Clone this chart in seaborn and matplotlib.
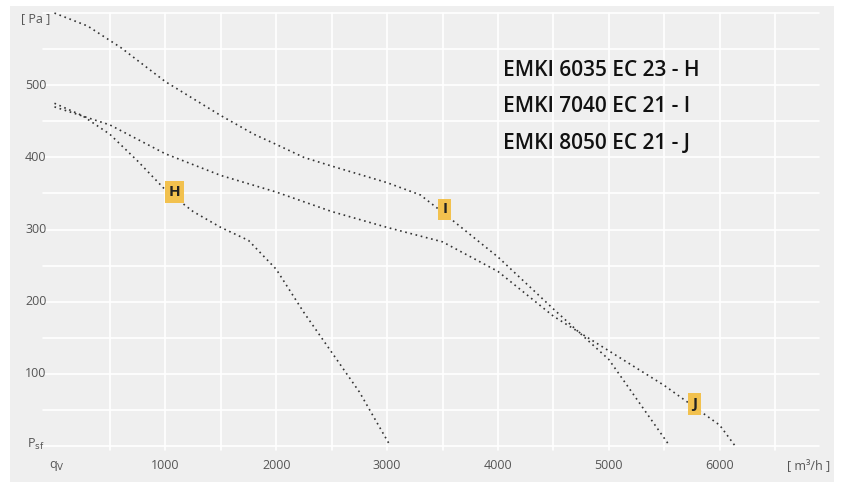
import matplotlib
matplotlib.use("Agg")
import matplotlib.pyplot as plt
import seaborn as sns
import pandas as pd

h_q = [0, 250, 500, 750, 1000, 1250, 1500, 1750, 2000, 2250, 2500, 2750, 3030]
h_p = [475, 458, 432, 395, 355, 325, 303, 285, 245, 185, 130, 75, 0]
i_q = [0, 300, 600, 1000, 1500, 1800, 2000, 2250, 2500, 3000, 3300, 3500, 4000, 4500, 5000, 5550]
i_p = [600, 582, 552, 505, 458, 432, 418, 400, 388, 365, 348, 324, 262, 190, 120, 0]
j_q = [0, 500, 1000, 1500, 2000, 2500, 3000, 3500, 4000, 4500, 5000, 5500, 6000, 6140]
j_p = [470, 445, 405, 375, 352, 325, 303, 283, 242, 180, 132, 84, 29, 0]
labels = ["H", "I", "J"]
label_q = [1080, 3520, 5775]
label_p = [352, 328, 58]
legend_lines = ["EMKI 6035 EC 23 - H", "EMKI 7040 EC 21 - I", "EMKI 8050 EC 21 - J"]
yticks = [100, 200, 300, 400, 500]
xticks = [1000, 2000, 3000, 4000, 5000, 6000]

df = pd.concat([
    pd.DataFrame({"q": h_q, "p": h_p, "s": "H"}),
    pd.DataFrame({"q": i_q, "p": i_p, "s": "I"}),
    pd.DataFrame({"q": j_q, "p": j_p, "s": "J"}),
])

sns.set_theme(style="white")
plt.rcParams['font.family'] = ['Open Sans', 'DejaVu Sans']
fig = plt.figure(figsize=(8.44, 4.88), dpi=100)
fig.patch.set_facecolor("white")
ax = fig.add_axes([0.012, 0.012, 0.976, 0.976])
ax.set_facecolor("#efefef")
sns.lineplot(data=df, x="q", y="p", units="s", estimator=None, sort=False,
             color="#333333", linestyle=(0, (1, 2.2)), linewidth=1.2, ax=ax)
ax.set_xlim(-400, 7030)
ax.set_ylim(-50, 610)
for v in range(500, 7000, 500):
    ax.plot([v, v], [-5, 600], color="white", lw=1.2, zorder=0)
for v in range(0, 601, 50):
    ax.plot([-100, 6900], [v, v], color="white", lw=1.2, zorder=0)
for s in ax.spines.values():
    s.set_visible(False)
ax.set_xticks([]); ax.set_yticks([])
ax.set_xlabel(""); ax.set_ylabel("")
for t in yticks:
    ax.text(-170, t, str(t), ha="center", va="center", fontsize=9, color="#555555")
for t in xticks:
    ax.text(t, -27, str(t), ha="center", va="center", fontsize=9, color="#555555")
ax.text(-170, 592, "[ Pa ]", ha="center", va="center", fontsize=9, color="#555555")
ax.text(-170, 2, "P$_{\\rm sf}$", ha="center", va="center", fontsize=9, color="#555555")
ax.text(20, -27, "q$_{\\rm V}$", ha="center", va="center", fontsize=9, color="#555555")
ax.text(6800, -27, "[ m³/h ]", ha="center", va="center", fontsize=9, color="#555555")
for l, x, y in zip(labels, label_q, label_p):
    ax.text(x, y, l, ha="center", va="center", fontsize=11, fontweight="bold", color="#222222",
            bbox=dict(boxstyle="square,pad=0.25", fc="#f2c14e", ec="none"))
for k, t in enumerate(legend_lines):
    ax.text(4050, 521 - k * 51, t, ha="left", va="center", fontsize=15, color="#111111", fontweight="semibold")
fig.savefig("out.png", dpi=100)
